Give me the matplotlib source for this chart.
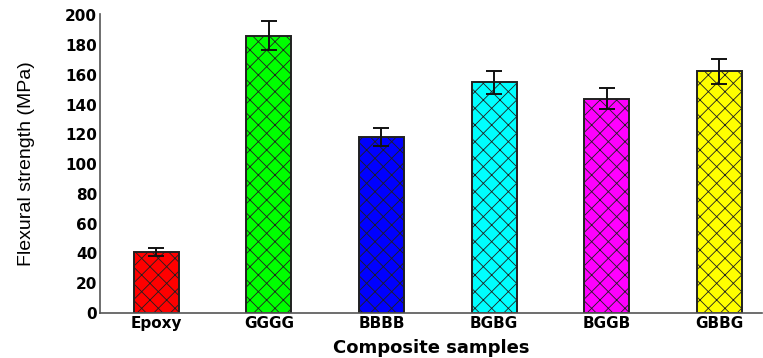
import matplotlib
matplotlib.use("Agg")
import matplotlib.pyplot as plt

samples = ["Epoxy", "GGGG", "BBBB", "BGBG", "BGGB", "GBBG"]
strength = [41, 186.5, 118.5, 155, 144, 162.5]
errors = [2.5, 9.5, 6, 8, 7, 8.5]
colors = ["#ff0000", "#00ff00", "#0000ff", "#00ffff", "#ff00ff", "#ffff00"]

plt.rcParams["hatch.linewidth"] = 0.6
plt.rcParams["hatch.color"] = "#1a1a1a"

fig = plt.figure(figsize=(7.63, 3.58), dpi=100)
ax = fig.add_axes([100 / 763, 45 / 358, 662 / 763, 299 / 358])

x = list(range(len(samples)))
ax.bar(x, strength, width=0.4, color=colors, edgecolor="#202020",
       linewidth=1.4, hatch="xx")
ax.errorbar(x, strength, yerr=errors, fmt="none", ecolor="#111111",
            elinewidth=1.4, capsize=5.5, capthick=1.4)

ax.set_xlim(-0.5, 5.38)
ax.set_ylim(0, 201)
ax.set_yticks(range(0, 201, 20))
ax.set_xticks(x)
ax.set_xticklabels(samples)

for side in ("top", "right"):
    ax.spines[side].set_visible(False)
for side in ("left", "bottom"):
    ax.spines[side].set_color("#555555")
    ax.spines[side].set_linewidth(1.2)

ax.tick_params(length=0, labelsize=11, pad=2)
for lab in ax.get_xticklabels() + ax.get_yticklabels():
    lab.set_fontweight("bold")
    lab.set_family("DejaVu Sans")

ax.set_ylabel("Flexural strength (MPa)", fontsize=14,
              family="Liberation Sans", labelpad=22)
ax.set_xlabel("Composite samples", fontsize=13, fontweight="bold",
              family="DejaVu Sans", labelpad=6)

fig.savefig("out.png", dpi=100)
